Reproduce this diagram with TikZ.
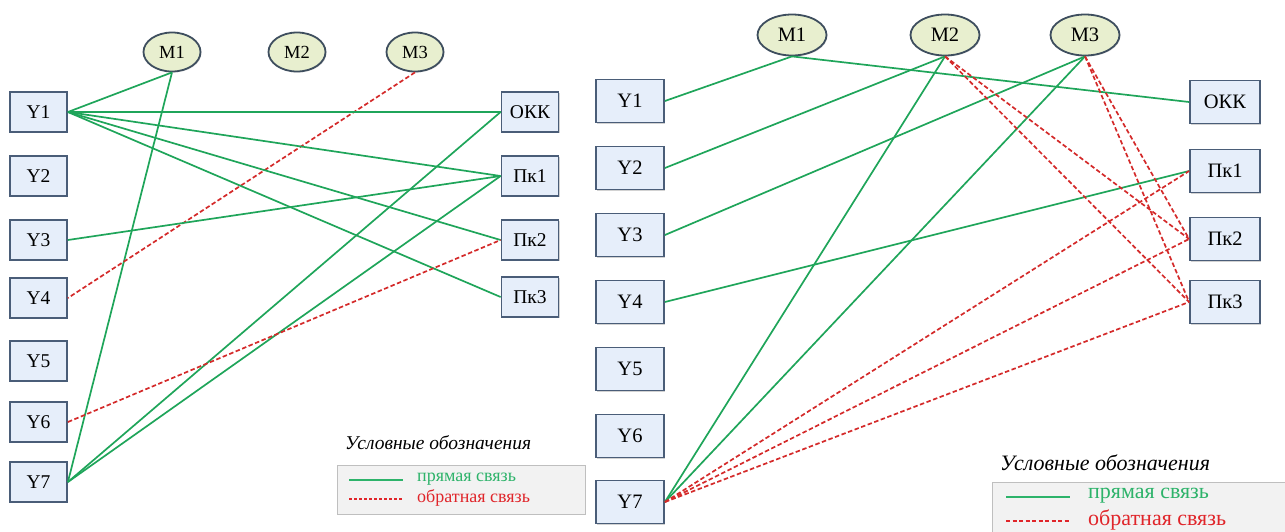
\documentclass[tikz,border=0pt]{standalone}
\usepackage{fontspec}
\setmainfont{Liberation Serif}
\usetikzlibrary{shapes.geometric,shadows}
\definecolor{boxfill}{HTML}{E6EEFA}
\definecolor{boxline}{HTML}{4A5D78}
\definecolor{ellfill}{HTML}{E8EFCF}
\definecolor{ellline}{HTML}{3E4E5E}
\definecolor{dirgreen}{HTML}{1FA55A}
\definecolor{backred}{HTML}{D42A2A}
\definecolor{leggreen}{HTML}{2DB36A}
\definecolor{legred}{HTML}{E0252A}
\definecolor{legfill}{HTML}{F2F2F2}
\definecolor{legline}{HTML}{BFBFBF}
\tikzset{
  ubox/.style={rectangle, draw=boxline, line width=1.8pt, fill=boxfill,
    drop shadow={shadow xshift=1.2pt, shadow yshift=-1.2pt, fill=black!35},
    inner sep=0pt, font=\fontsize{19.5}{21}\selectfont},
  lbox/.style={ubox, minimum width=57pt, minimum height=40pt},
  rbox/.style={ubox, minimum width=68pt, minimum height=43pt, font=\fontsize{20.5}{22}\selectfont},
  mnode/.style={ellipse, draw=ellline, line width=1.8pt, fill=ellfill, inner sep=0pt,
    drop shadow={shadow xshift=1pt, shadow yshift=-1pt, fill=black!25}},
  lell/.style={mnode, minimum width=57pt, minimum height=39pt, font=\fontsize{18.5}{20}\selectfont},
  rell/.style={mnode, minimum width=69pt, minimum height=41pt, font=\fontsize{20.5}{22}\selectfont},
  direct/.style={draw=dirgreen, line width=1.7pt},
  back/.style={draw=backred, line width=1.7pt, dash pattern=on 4.5pt off 2.5pt},
  legbox/.style={draw=legline, line width=1pt, fill=legfill},
}
\begin{document}
\begin{tikzpicture}[x=1pt,y=-1pt]
\useasboundingbox (0,0) rectangle (1285,531);
\clip (0,0) rectangle (1285,531);
% ---------- left panel ----------
\node[lbox] (ly1) at (38.5,112) {Y1};
\node[lbox] (ly2) at (38.5,176) {Y2};
\node[lbox] (ly3) at (38.5,240) {Y3};
\node[lbox] (ly4) at (38.5,298) {Y4};
\node[lbox] (ly5) at (38.5,361) {Y5};
\node[lbox] (ly6) at (38.5,422) {Y6};
\node[lbox] (ly7) at (38.5,482) {Y7};
\node[lell] (lm1) at (172,52) {M1};
\node[lell] (lm2) at (297,52) {M2};
\node[lell] (lm3) at (415,52) {M3};
\node[lbox] (lokk) at (530,112) {ОКК};
\node[lbox] (lpk1) at (530,176) {Пк1};
\node[lbox] (lpk2) at (530,240) {Пк2};
\node[lbox] (lpk3) at (530,297) {Пк3};
\draw[direct] (lm1.south) -- (ly1.east);
\draw[direct] (lm1.south) -- (ly7.east);
\draw[back] (lm3.south) -- (ly4.east);
\draw[direct] (ly1.east) -- (lokk.west);
\draw[direct] (ly1.east) -- (lpk1.west);
\draw[direct] (ly1.east) -- (lpk2.west);
\draw[direct] (ly1.east) -- (lpk3.west);
\draw[direct] (ly3.east) -- (lpk1.west);
\draw[direct] (ly7.east) -- (lokk.west);
\draw[direct] (ly7.east) -- (lpk1.west);
\draw[back] (ly6.east) -- (lpk2.west);
% left legend
\node[anchor=west, font=\fontsize{19.5}{21}\selectfont\itshape, inner sep=0pt] (ltitle) at (345,443) {Условные обозначения};
\path[legbox] (337,465) rectangle (585,514);
\coordinate (lg1a) at (349,480); \coordinate (lg1b) at (403,480);
\coordinate (lg2a) at (349,499); \coordinate (lg2b) at (403,499);
\draw[direct, draw=leggreen] (lg1a) -- (lg1b);
\draw[back, draw=legred, line width=1.4pt, dash pattern=on 3pt off 2pt] (lg2a) -- (lg2b);
\node[anchor=west, text=leggreen, font=\fontsize{18}{20}\selectfont, inner sep=0pt] (ll1) at (417,479) {прямая связь};
\node[anchor=west, text=legred, font=\fontsize{18}{20}\selectfont, inner sep=0pt] (ll2) at (417,498) {обратная связь};
% ---------- right panel ----------
\node[rbox] (ry1) at (630,101) {Y1};
\node[rbox] (ry2) at (630,168) {Y2};
\node[rbox] (ry3) at (630,235) {Y3};
\node[rbox] (ry4) at (630,302) {Y4};
\node[rbox] (ry5) at (630,369) {Y5};
\node[rbox] (ry6) at (630,436) {Y6};
\node[rbox] (ry7) at (630,502) {Y7};
\node[rell] (rm1) at (792,35) {M1};
\node[rell] (rm2) at (945,35) {M2};
\node[rell] (rm3) at (1085,35) {M3};
\node[rbox, minimum width=70pt] (rokk) at (1225,102) {ОКК};
\node[rbox, minimum width=70pt] (rpk1) at (1225,171) {Пк1};
\node[rbox, minimum width=70pt] (rpk2) at (1225,239) {Пк2};
\node[rbox, minimum width=70pt] (rpk3) at (1225,302) {Пк3};
\draw[direct] (rm1.south) -- (ry1.east);
\draw[direct] (rm1.south) -- (rokk.west);
\draw[direct] (rm2.south) -- (ry2.east);
\draw[direct] (rm2.south) -- (ry7.east);
\draw[direct] (rm3.south) -- (ry3.east);
\draw[direct] (rm3.south) -- (ry7.east);
\draw[direct] (ry4.east) -- (rpk1.west);
\draw[back] (rm2.south) -- (rpk2.west);
\draw[back] (rm2.south) -- (rpk3.west);
\draw[back] (rm3.south) -- (rpk2.west);
\draw[back] (rm3.south) -- (rpk3.west);
\draw[back] (ry7.east) -- (rpk1.west);
\draw[back] (ry7.east) -- (rpk2.west);
\draw[back] (ry7.east) -- (rpk3.west);
% right legend
\node[anchor=west, font=\fontsize{22}{24}\selectfont\itshape, inner sep=0pt] (rtitle) at (1000,463) {Условные обозначения};
\path[legbox] (992,482) rectangle (1300,545);
\coordinate (rg1a) at (1006,497); \coordinate (rg1b) at (1070,497);
\coordinate (rg2a) at (1006,521); \coordinate (rg2b) at (1070,521);
\draw[direct, draw=leggreen] (rg1a) -- (rg1b);
\draw[back, draw=legred, line width=1.6pt, dash pattern=on 4pt off 2.5pt] (rg2a) -- (rg2b);
\node[anchor=west, text=leggreen, font=\fontsize{22}{24}\selectfont, inner sep=0pt] (rl1) at (1088,496) {прямая связь};
\node[anchor=west, text=legred, font=\fontsize{22}{24}\selectfont, inner sep=0pt] (rl2) at (1088,520) {обратная связь};
\end{tikzpicture}
\end{document}
